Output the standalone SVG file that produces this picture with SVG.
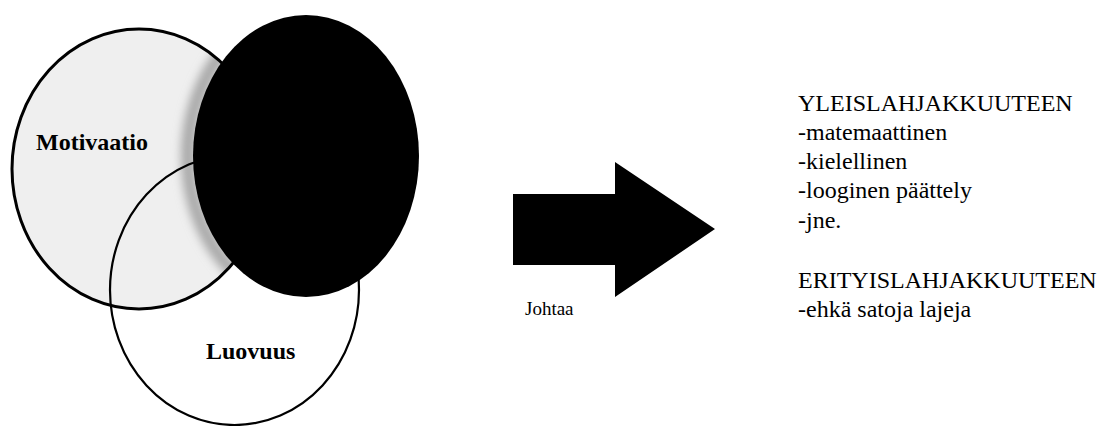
<svg xmlns="http://www.w3.org/2000/svg" width="1111" height="426" viewBox="0 0 1111 426">
  <style>
    .lbl { font-family: "Liberation Serif", "Times New Roman", serif; font-size: 24px; fill: #000; }
    .bold { font-weight: bold; }
    .outline { fill: none; stroke: #000; }
  </style>
  <defs>
    <clipPath id="motClip">
      <ellipse cx="139" cy="169" rx="127" ry="140"/>
    </clipPath>
    <filter id="soft" x="-20%" y="-20%" width="140%" height="140%">
      <feGaussianBlur stdDeviation="5"/>
    </filter>
  </defs>
  <rect width="1111" height="426" fill="#fff"/>

  <g id="motivaatio">
    <ellipse cx="139" cy="169" rx="127" ry="140" fill="#efefef"/>
    <g clip-path="url(#motClip)">
      <ellipse cx="306" cy="156" rx="118" ry="146" fill="none" stroke="#a8a8a8" stroke-width="14" filter="url(#soft)"/>
    </g>
    <ellipse class="outline" cx="139" cy="169" rx="127" ry="140" stroke-width="3"/>
  </g>

  <g id="luovuus">
    <ellipse class="outline" cx="234.5" cy="290" rx="124.5" ry="135" stroke-width="2.2"/>
  </g>

  <g id="kolmas">
    <ellipse cx="306" cy="156" rx="113" ry="141" fill="#000"/>
  </g>

  <g id="labels-circles">
    <text class="lbl bold" x="36" y="150">Motivaatio</text>
    <text class="lbl bold" x="206" y="359">Luovuus</text>
  </g>

  <g id="connectors">
    <polygon points="513,194 615,194 615,162 715,229 615,297 615,265 513,265" fill="#000"/>
    <text class="lbl" x="525" y="315" style="font-size:19px">Johtaa</text>
  </g>

  <g id="lahjakkuus">
    <text class="lbl" x="798" y="111">YLEISLAHJAKKUUTEEN</text>
    <text class="lbl" x="798" y="140">-matemaattinen</text>
    <text class="lbl" x="798" y="169">-kielellinen</text>
    <text class="lbl" x="798" y="198">-looginen päättely</text>
    <text class="lbl" x="798" y="228">-jne.</text>
    <text class="lbl" x="798" y="288">ERITYISLAHJAKKUUTEEN</text>
    <text class="lbl" x="798" y="317">-ehkä satoja lajeja</text>
  </g>
</svg>
